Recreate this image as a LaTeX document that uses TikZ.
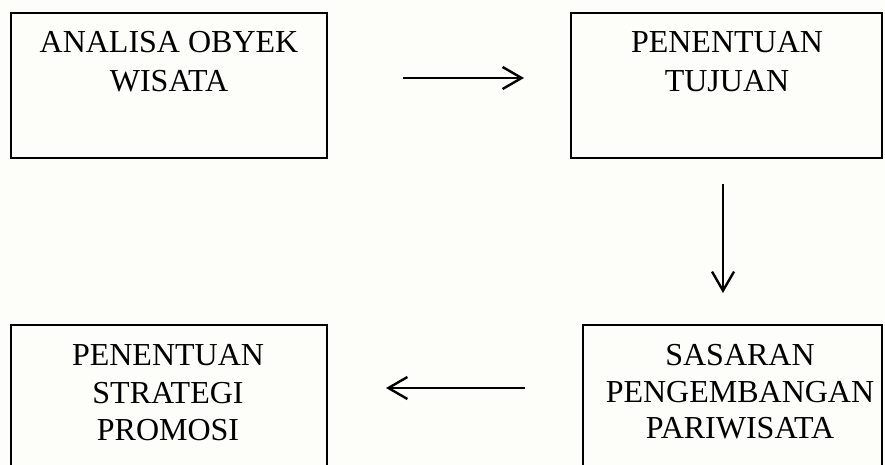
\documentclass[tikz,border=0pt]{standalone}
\usepackage{fontspec}
\setmainfont{Liberation Serif}
\usetikzlibrary{arrows.meta}
\definecolor{paper}{RGB}{253,253,249}
\tikzset{
  boxshape/.style={draw=black, line width=2.6pt},
  lbl/.style={inner sep=0pt, anchor=base, font=\fontsize{32}{38}\selectfont},
  flow/.style={draw=black, line width=2.4pt, -{Straight Barb[length=19pt,width=22pt,line width=2.4pt]}}
}
\begin{document}
\begin{tikzpicture}[x=1pt,y=-1pt]
\useasboundingbox (0,0) rectangle (885,465);
\clip (0,0) rectangle (885,465);
\fill[paper] (0,0) rectangle (885,465);
% boxes
\draw[boxshape] (11,13) rectangle (327,158);
\draw[boxshape] (571,13) rectangle (882,158);
\draw[boxshape] (11,325) rectangle (327,480);
\draw[boxshape] (583,325) rectangle (882,480);
% texts
\node[lbl] (tl1) at (169,53) {ANALISA OBYEK};
\node[lbl] (tl2) at (169,92) {WISATA};
\node[lbl] (tr1) at (727,53) {PENENTUAN};
\node[lbl] (tr2) at (727,92) {TUJUAN};
\node[lbl] (bl1) at (168,365) {PENENTUAN};
\node[lbl] (bl2) at (168,403) {STRATEGI};
\node[lbl] (bl3) at (168,440) {PROMOSI};
\node[lbl] (br1) at (740,365) {SASARAN};
\node[lbl] (br2) at (740,402) {PENGEMBANGAN};
\node[lbl] (br3) at (740,438) {PARIWISATA};
% connectors
\coordinate (a1) at (403,78);
\coordinate (a2) at (524,78);
\coordinate (b1) at (723,184);
\coordinate (b2) at (723,293);
\coordinate (c1) at (525,388);
\coordinate (c2) at (386,388);
\draw[flow] (a1) -- (a2);
\draw[flow] (b1) -- (b2);
\draw[flow] (c1) -- (c2);
\end{tikzpicture}
\end{document}
